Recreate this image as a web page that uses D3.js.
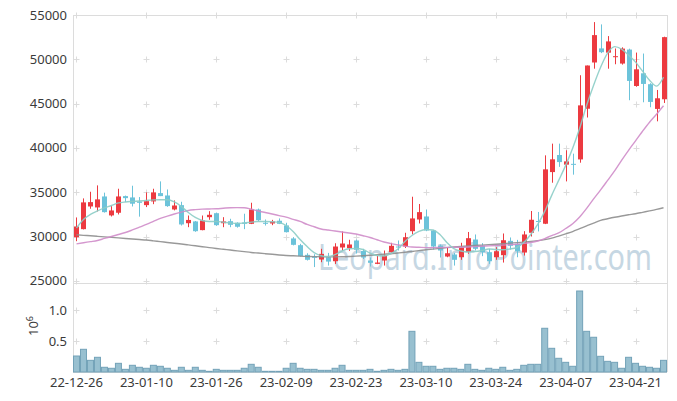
<!DOCTYPE html>
<html><head><meta charset="utf-8">
<script src="https://cdn.jsdelivr.net/npm/d3@7"></script>
<style>
body{margin:0;background:#fff}
svg{display:block}
text{font-family:"Noto Sans",sans-serif}
</style>
</head><body>
<svg id="c" width="677" height="401"></svg>
<script>
const dates = ["22-12-26","22-12-27","22-12-28","22-12-29","23-01-02","23-01-03","23-01-04","23-01-05","23-01-06","23-01-09",
"23-01-10","23-01-11","23-01-12","23-01-13","23-01-16","23-01-17","23-01-18","23-01-19","23-01-20","23-01-25",
"23-01-26","23-01-27","23-01-30","23-01-31","23-02-01","23-02-02","23-02-03","23-02-06","23-02-07","23-02-08",
"23-02-09","23-02-10","23-02-13","23-02-14","23-02-15","23-02-16","23-02-17","23-02-20","23-02-21","23-02-22",
"23-02-23","23-02-24","23-02-27","23-02-28","23-03-02","23-03-03","23-03-06","23-03-07","23-03-08","23-03-09",
"23-03-10","23-03-13","23-03-14","23-03-15","23-03-16","23-03-17","23-03-20","23-03-21","23-03-22","23-03-23",
"23-03-24","23-03-27","23-03-28","23-03-29","23-03-30","23-03-31","23-04-03","23-04-04","23-04-05","23-04-06",
"23-04-07","23-04-10","23-04-11","23-04-12","23-04-13","23-04-14","23-04-17","23-04-18","23-04-19","23-04-20",
"23-04-21","23-04-24","23-04-25","23-04-26","23-04-27"];

const open  = [29920,30830,33390,33280,34520,32380,32680,34560,34410,33950,33540,33960,34900,34630,33050,33540,31500,31700,30720,32180,
32630,31500,31730,31550,31580,31430,33050,31550,31470,31780,31250,29780,29020,27930,27740,27400,27660,27210,28760,28680,
29550,28360,27290,26910,27290,28230,28870,28870,30600,31920,32260,30680,28980,27740,27970,27660,28250,29660,28980,28230,
27660,27890,29510,29180,28190,30420,31750,31440,37270,39200,38110,38200,38700,44420,49640,51230,50750,50300,49520,51100,
46990,48420,47190,44400,45490];
const high  = [32150,34300,35050,35770,34950,33430,35390,34620,35730,34450,34980,35390,36220,35310,34070,33920,32370,31750,32370,32860,
32700,32180,32000,31600,32570,33810,33150,31920,31880,32040,31550,29930,29170,28110,28000,28610,28150,29240,30570,29630,
29650,28610,27630,27820,28420,29290,29550,30420,34490,33670,33050,30750,29100,28720,28150,29290,30510,30230,29250,28610,
28790,30340,29890,29620,30600,32880,32770,39160,40480,40480,39730,39350,48200,49300,54200,53940,52620,51220,51350,51200,
50760,50650,47300,46540,52550];
const low   = [29470,30800,33130,32830,32700,32260,32490,33900,33390,32240,33320,33650,34560,33350,32950,31240,31050,30530,30700,31890,
31200,31050,31050,31000,30830,31400,31730,31240,31280,31400,30450,29000,27740,27290,26550,27100,26720,26900,28420,28380,
28080,27460,26610,26880,26720,28200,28420,28700,30230,31470,30600,28530,27630,27660,26720,27370,28050,28420,27780,26910,
27370,27060,28530,27660,27850,30000,30570,31400,36070,37860,36220,36980,38330,43430,48940,50700,48940,49440,49400,45380,
46900,45150,44590,43000,45070];
const close = [31130,33850,33880,34190,32750,32940,34520,34330,33700,33800,33990,34980,34560,33430,33500,31360,31870,30600,31810,32450,
31280,31700,31320,31100,31430,33050,31840,31430,31700,31430,30490,29060,27780,27370,27590,28040,27170,28870,29210,29100,
28500,27630,27030,27060,27850,28950,28760,29920,32040,32750,30680,28870,28420,28110,27370,28790,29810,28610,28230,27210,
28340,29580,28950,28330,30230,31890,31700,37580,38710,38400,38480,38100,44800,49300,52730,50800,52020,50350,51210,47560,
48870,47220,45190,45600,52500];
const volume = [258000,366000,188000,237000,76000,60000,140000,43000,108000,76000,60000,108000,92000,60000,27000,76000,27000,76000,27000,11000,
43000,27000,27000,27000,60000,124000,76000,11000,11000,11000,60000,140000,60000,43000,43000,27000,27000,60000,108000,27000,
27000,27000,43000,11000,27000,43000,27000,43000,656000,156000,92000,92000,43000,60000,60000,43000,124000,43000,27000,60000,
43000,76000,27000,43000,108000,124000,124000,705000,382000,221000,156000,92000,1306000,656000,560000,253000,172000,156000,60000,237000,
140000,92000,76000,60000,188000];
const ma5  = [30960,31920,32490,32880,33220,33500,33790,33900,33960,34010,34070,34130,34150,34150,33900,33390,32710,32150,31810,31700,
31700,31620,31530,31470,31530,31620,31700,31700,31660,31580,31240,30560,29660,28870,28190,27850,27740,27960,28360,28610,
28640,28530,28130,27850,27800,28080,28590,29430,30110,30570,30790,30740,30230,29320,28640,28360,28250,28300,28420,28590,
28530,28500,28590,28760,29320,30230,31360,32830,34640,36330,38030,39950,42210,44820,47080,49110,50700,51430,51150,50470,
49680,48660,47640,46970,47980];
const ma20 = [29170,29300,29420,29550,29780,30000,30230,30450,30740,31050,31360,31700,32040,32300,32540,32750,32940,33030,33090,33110,
33130,33190,33250,33260,33250,33080,32880,32710,32540,32360,32180,31940,31700,31360,31100,30850,30730,30620,30510,30400,
30280,30090,29890,29630,29380,29200,29040,28920,28810,28780,28750,28750,28760,28770,28780,28790,28820,28860,28900,28940,
28980,29030,29080,29130,29220,29320,29490,29770,30110,30400,30900,31440,32200,33170,34240,35260,36330,37410,38600,39730,
40800,41880,42900,43800,44760];
const ma60 = [30190,30130,30080,30020,29960,29900,29840,29780,29720,29660,29600,29510,29420,29330,29240,29150,29050,28950,28850,28750,
28650,28560,28470,28380,28290,28200,28130,28060,27990,27920,27860,27820,27780,27750,27730,27710,27700,27700,27710,27740,
27780,27830,27880,27940,28000,28060,28140,28220,28310,28400,28500,28580,28660,28740,28810,28870,28920,28980,29030,29080,
29130,29190,29250,29310,29370,29430,29530,29650,29810,30050,30300,30560,30880,31200,31520,31820,32000,32170,32320,32450,
32570,32730,32890,33060,33250];

const yTicks = [25000,30000,35000,40000,45000,50000,55000];
const vTicks = [0.5,1.0];
const xTickIdx = [0,10,20,30,40,50,60,70,80];

const svg = d3.select("#c");
const L=73, R=667, pTop=15, pBot=283, vBot=372;
const x = d3.scaleBand().domain(dates).range([L,R]).padding(0);
const step = x.bandwidth();
const xc = d => x(d) + step/2;
const y = d3.scaleLinear().domain([24752,55000]).range([pBot,pTop]);
const yv = d3.scaleLinear().domain([0,1.435]).range([vBot,pBot]);

const gridC = "#dcdcdc";
// frame
const fr = svg.append("g").attr("stroke",gridC).attr("stroke-width",1).attr("fill","none");
fr.append("line").attr("x1",L).attr("x2",R).attr("y1",pTop+0.5).attr("y2",pTop+0.5);
fr.append("line").attr("x1",L).attr("x2",R).attr("y1",pBot+0.5).attr("y2",pBot+0.5);
fr.append("line").attr("x1",L).attr("x2",R).attr("y1",vBot+0.5).attr("y2",vBot+0.5);
fr.append("line").attr("x1",L+0.5).attr("x2",L+0.5).attr("y1",pTop).attr("y2",vBot);
fr.append("line").attr("x1",R+0.5).attr("x2",R+0.5).attr("y1",pTop).attr("y2",vBot);

// watermark (drawn narrow via horizontal scale)
svg.append("text").attr("transform","translate(318,270) scale(0.8,1)").attr("font-size",36)
  .attr("fill","#c6d7e3")
  .text("Leopard.InfoPointer.com");

// grid pluses
const gp = svg.append("g").attr("stroke",gridC).attr("stroke-width",1);
const gridYs = yTicks.map(v=>Math.round(y(v))).concat(vTicks.map(v=>Math.round(yv(v))));
xTickIdx.forEach(i=>{
  const cx = Math.round(xc(dates[i]))+0.5;
  gridYs.forEach(gy=>{
    gp.append("line").attr("x1",cx-3).attr("x2",cx+3).attr("y1",gy+0.5).attr("y2",gy+0.5);
    gp.append("line").attr("x1",cx).attr("x2",cx).attr("y1",gy-2.5).attr("y2",gy+3.5);
  });
});

// y labels
const tc = "#3a3a3a";
svg.append("g").selectAll("text").data(yTicks).join("text")
  .attr("x",67).attr("y",d=>y(d)).attr("dy","0.35em").attr("text-anchor","end")
  .attr("font-size",13).attr("fill",tc).text(d=>d);
svg.append("g").selectAll("text").data(vTicks).join("text")
  .attr("x",67).attr("y",d=>yv(d)).attr("dy","0.35em").attr("text-anchor","end")
  .attr("font-size",13).attr("fill",tc).text(d=>d.toFixed(1));
const ul = svg.append("text").attr("transform","translate(38,326) rotate(-90)")
  .attr("text-anchor","middle").attr("font-size",13).attr("fill",tc);
ul.append("tspan").text("10");
ul.append("tspan").attr("dy",-5).attr("font-size",9).text("6");

// x labels
svg.append("g").selectAll("text").data(xTickIdx).join("text")
  .attr("x",i=>xc(dates[i])).attr("y",387).attr("text-anchor","middle")
  .attr("font-size",13).attr("fill",tc).text(i=>dates[i]);

// volume bars
svg.append("g").selectAll("rect").data(dates).join("rect")
  .attr("x",(d)=>x(d)+0.5).attr("width",step-1)
  .attr("y",(d,i)=>yv(volume[i]/1e6)).attr("height",(d,i)=>vBot-yv(volume[i]/1e6))
  .attr("fill","#98c0d0").attr("stroke","#73a2b8").attr("stroke-width",1);

// candles
const up="#ec3a40", dn="#6cc3da";
const cg = svg.append("g");
dates.forEach((d,i)=>{
  const col = close[i]>=open[i]?up:dn;
  const cx = Math.round(xc(d))+0.5;
  cg.append("line").attr("x1",cx).attr("x2",cx).attr("y1",y(high[i])).attr("y2",y(low[i]))
    .attr("stroke",col).attr("stroke-width",1);
  const top = y(Math.max(open[i],close[i])), bot = y(Math.min(open[i],close[i]));
  cg.append("rect").attr("x",cx-2.5).attr("width",5).attr("y",top).attr("height",Math.max(1,bot-top))
    .attr("fill",col);
});

// moving averages
const line = arr => d3.line().x((v,i)=>xc(dates[i])).y(v=>y(v)).curve(d3.curveMonotoneX)(arr);
svg.append("path").attr("d",line(ma60)).attr("fill","none").attr("stroke","#8e8e8e").attr("stroke-width",1.4).attr("opacity",0.9);
svg.append("path").attr("d",line(ma20)).attr("fill","none").attr("stroke","#cf8cc9").attr("stroke-width",1.4).attr("opacity",0.9);
svg.append("path").attr("d",line(ma5)).attr("fill","none").attr("stroke","#8ccdc6").attr("stroke-width",1.4).attr("opacity",0.9);
</script>
</body></html>
